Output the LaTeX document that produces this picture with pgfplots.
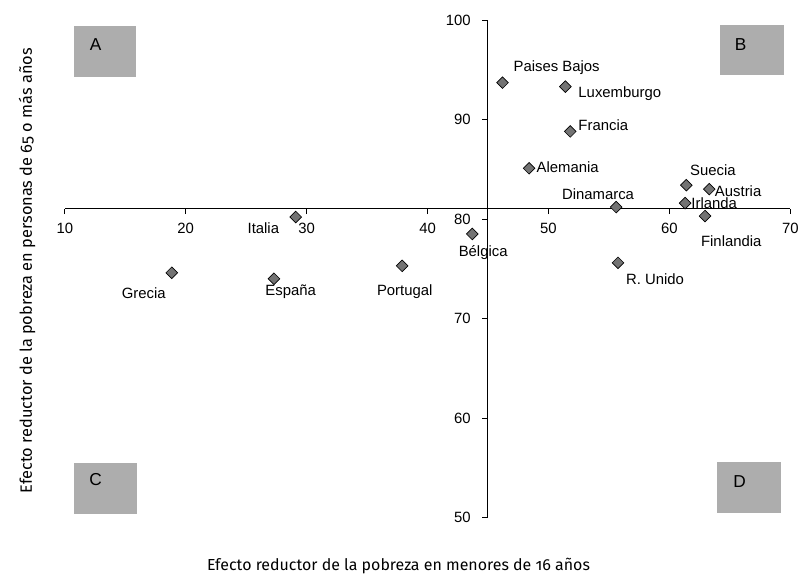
\documentclass[border=0pt]{standalone}
\usepackage{fontspec}
\setmainfont{Liberation Sans}
\newfontfamily\axfont[Numbers=OldStyle]{Fira Sans}
\usepackage{pgfplots}
\pgfplotsset{compat=1.18}

% efecto reductor: menores de 16 (x), 65 o mas (y)
\pgfplotstableread{
x     y
46.2  93.7
51.4  93.3
51.8  88.8
48.4  85.1
61.4  83.4
63.3  83.0
61.3  81.6
55.6  81.2
62.95 80.3
43.7  78.5
55.75 75.6
37.9  75.3
29.1  80.2
18.85 74.6
27.3  74.0
}\paises

\begin{document}
\begin{tikzpicture}
\begin{axis}[
    width=546pt, height=374.6pt,
    scale only axis,
    clip=false,
    xmin=10, xmax=70, ymin=50, ymax=100,
    axis lines=left,
    axis line style={-, black, line width=0.8pt},
    axis x line shift=-232.5pt,
    axis y line shift=-318pt,
    xtick={10,20,...,70},
    ytick={50,60,...,100},
    tick align=outside,
    major tick length=4pt,
    tick style={black, line width=0.6pt},
    tick label style={font=\fontsize{11.2}{13}\selectfont},
    /pgf/number format/assume math mode=true,
    xticklabel style={yshift=-3.5pt},
    yticklabel style={xshift=-5pt},
    xlabel={Efecto reductor de la pobreza en menores de 16 años},
    ylabel={Efecto reductor de la pobreza en personas de 65 o más años},
    xlabel style={font=\axfont\fontsize{12}{14}\selectfont, at={(axis description cs:0.46,-0.097)}, anchor=center},
    ylabel style={font=\axfont\fontsize{12.3}{14}\selectfont, at={(axis description cs:-0.052,0.4965)}, anchor=center, rotate=0},
]
% cuadrantes
\fill[black!32] (axis cs:10.74,94.3) rectangle (axis cs:15.93,99.4);
\fill[black!32] (axis cs:64.2,94.5) rectangle (axis cs:69.5,99.5);
\fill[black!32] (axis cs:10.8,50.4) rectangle (axis cs:16.0,55.5);
\fill[black!32] (axis cs:63.9,50.5) rectangle (axis cs:69.2,55.6);
\begin{scope}[every node/.style={font=\fontsize{13}{14}\selectfont\rmfamily}]
\node at (axis cs:12.55,97.5) {A};
\node at (axis cs:65.9,97.5) {B};
\node at (axis cs:12.55,53.8) {C};
\node at (axis cs:65.8,53.6) {D};
\end{scope}

\addplot[only marks, mark=square*, mark size=3.1pt,
    mark options={rotate=45, fill=black!55, draw=black, line width=0.5pt}]
    table {\paises};

\begin{scope}[every node/.style={anchor=west, font=\fontsize{11.2}{13}\selectfont, inner sep=0pt}]
\node at (axis cs:47.1,95.2) {Paises Bajos};
\node at (axis cs:52.46,92.6) {Luxemburgo};
\node at (axis cs:52.46,89.4) {Francia};
\node at (axis cs:49.0,85.2) {Alemania};
\node at (axis cs:61.7,84.9) {Suecia};
\node at (axis cs:63.75,82.8) {Austria};
\node at (axis cs:61.8,81.6) {Irlanda};
\node at (axis cs:51.1,82.5) {Dinamarca};
\node at (axis cs:62.6,77.8) {Finlandia};
\node at (axis cs:42.56,76.6) {Bélgica};
\node at (axis cs:56.4,74.0) {R. Unido};
\node at (axis cs:35.8,72.7) {Portugal};
\node at (axis cs:25.1,79.1) {Italia};
\node at (axis cs:14.7,72.6) {Grecia};
\node at (axis cs:26.57,72.7) {España};
\end{scope}
\end{axis}
\path (-48.75pt,-46.1pt) rectangle (553.5pt,389.6pt);
\end{tikzpicture}
\end{document}
